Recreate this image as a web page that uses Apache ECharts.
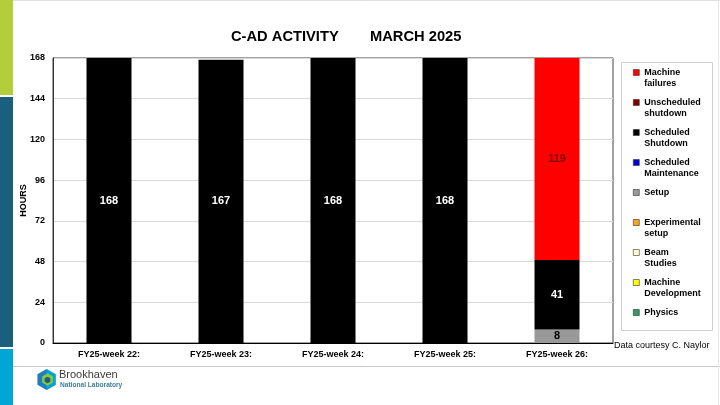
<!DOCTYPE html>
<html>
<head>
<meta charset="utf-8">
<script src="https://cdn.jsdelivr.net/npm/echarts@6/dist/echarts.min.js"></script>
<style>
html,body{margin:0;padding:0;background:#fff;}
#chart{width:720px;height:405px;}
</style>
</head>
<body>
<div id="chart"></div>
<script>
// ---- data ----
var weeks = ['FY25-week 22:', 'FY25-week 23:', 'FY25-week 24:', 'FY25-week 25:', 'FY25-week 26:'];
var yTicks = [0, 24, 48, 72, 96, 120, 144, 168];
var physics = [0, 0, 0, 0, 0];
var machineDevelopment = [0, 0, 0, 0, 0];
var beamStudies = [0, 0, 0, 0, 0];
var experimentalSetup = [0, 0, 0, 0, 0];
var setup = [0, 0, 0, 0, 8];
var scheduledMaintenance = [0, 0, 0, 0, 0];
var scheduledShutdown = [168, 167, 168, 168, 41];
var unscheduledShutdown = [0, 0, 0, 0, 0];
var machineFailures = [0, 0, 0, 0, 119];

var FONT = 'Liberation Sans, Arial, sans-serif';

var seriesDefs = [
  {name: 'Physics', legend: ' \nPhysics\n ', data: physics, color: '#339966', label: '#000'},
  {name: 'Machine Development', legend: ' \nMachine\nDevelopment', data: machineDevelopment, color: '#ffff00', label: '#000'},
  {name: 'Beam Studies', legend: ' \nBeam\nStudies', data: beamStudies, color: '#ffffcc', label: '#000'},
  {name: 'Experimental setup', legend: ' \nExperimental\nsetup', data: experimentalSetup, color: '#f5a623', label: '#000'},
  {name: 'Setup', legend: ' \nSetup\n ', data: setup, color: '#999999', label: '#000'},
  {name: 'Scheduled Maintenance', legend: ' \nScheduled\nMaintenance', data: scheduledMaintenance, color: '#0000cc', label: '#fff'},
  {name: 'Scheduled Shutdown', legend: ' \nScheduled\nShutdown', data: scheduledShutdown, color: '#000000', label: '#fff'},
  {name: 'Unscheduled shutdown', legend: ' \nUnscheduled\nshutdown', data: unscheduledShutdown, color: '#800000', label: '#fff'},
  {name: 'Machine failures', legend: ' \nMachine\nfailures', data: machineFailures, color: '#ff0000', label: '#7a0000'}
];
var legendText = {};
seriesDefs.forEach(function (s) { legendText[s.name] = s.legend; });

var series = seriesDefs.map(function (s) {
  return {
    name: s.name,
    type: 'bar',
    stack: 'total',
    barWidth: 45,
    data: s.data,
    itemStyle: {color: s.color},
    emphasis: {disabled: true},
    label: {
      show: true,
      position: 'inside',
      color: s.label,
      fontFamily: FONT,
      fontWeight: 'bold',
      fontSize: 11,
      formatter: function (p) { return p.value ? String(p.value) : ''; }
    }
  };
});

function hex(cx, cy, r) {
  var pts = [];
  for (var i = 0; i < 6; i++) {
    var a = (-90 + 60 * i) * Math.PI / 180;
    pts.push([cx + r * Math.cos(a), cy + r * Math.sin(a)]);
  }
  return pts;
}

var chart = echarts.init(document.getElementById('chart'), null, {renderer: 'canvas'});
chart.setOption({
  animation: false,
  backgroundColor: '#fff',
  textStyle: {fontFamily: FONT},
  title: [
    {text: 'C-AD ACTIVITY', left: 231, top: 29, padding: 0,
     textStyle: {fontFamily: FONT, fontWeight: 'bold', fontSize: 14.7, color: '#000'}},
    {text: 'MARCH 2025', left: 370, top: 29, padding: 0,
     textStyle: {fontFamily: FONT, fontWeight: 'bold', fontSize: 14.7, color: '#000'}}
  ],
  grid: {left: 53, right: 107, top: 58, bottom: 62, show: true, borderColor: '#444', borderWidth: 1},
  xAxis: {
    type: 'category',
    data: weeks,
    axisLine: {show: true, lineStyle: {color: '#000', width: 1}},
    axisTick: {show: false},
    axisLabel: {color: '#000', fontFamily: FONT, fontWeight: 'bold', fontSize: 9, margin: 7}
  },
  yAxis: {
    type: 'value',
    min: yTicks[0],
    max: yTicks[yTicks.length - 1],
    interval: yTicks[1] - yTicks[0],
    name: 'HOURS',
    nameLocation: 'middle',
    nameGap: 25,
    nameMoveOverlap: false,
    nameTextStyle: {color: '#000', fontFamily: FONT, fontWeight: 'bold', fontSize: 9},
    axisLine: {show: true, lineStyle: {color: '#333', width: 1}},
    axisTick: {show: false},
    axisLabel: {color: '#000', fontFamily: FONT, fontWeight: 'bold', fontSize: 9, margin: 8},
    splitLine: {show: true, lineStyle: {color: '#d9d9d9', width: 1}}
  },
  legend: {
    orient: 'vertical',
    left: 633,
    top: 56,
    padding: 0,
    itemGap: -3,
    itemWidth: 6,
    itemHeight: 6,
    icon: 'rect',
    selectedMode: false,
    data: seriesDefs.slice().reverse().map(function (s) { return s.name; }),
    formatter: function (n) { return legendText[n]; },
    itemStyle: {borderColor: '#333', borderWidth: 0.6},
    textStyle: {color: '#000', fontFamily: FONT, fontWeight: 'bold', fontSize: 9, lineHeight: 11}
  },
  graphic: [
    {type: 'rect', shape: {x: 0, y: 0, width: 13, height: 95}, style: {fill: '#b3cd3b'}, silent: true},
    {type: 'rect', shape: {x: 0, y: 97, width: 13, height: 250}, style: {fill: '#1a5f7c'}, silent: true},
    {type: 'rect', shape: {x: 0, y: 349, width: 13, height: 56}, style: {fill: '#00a6d6'}, silent: true},
    {type: 'line', shape: {x1: 13, y1: 366.5, x2: 720, y2: 366.5}, style: {stroke: '#c8c8c8', lineWidth: 1}, silent: true},
    {type: 'line', shape: {x1: 13, y1: 0.5, x2: 720, y2: 0.5}, style: {stroke: '#e0e0e0', lineWidth: 1}, silent: true},
    {type: 'line', shape: {x1: 718.5, y1: 0, x2: 718.5, y2: 405}, style: {stroke: '#e6e6e6', lineWidth: 1}, silent: true},
    {type: 'rect', shape: {x: 621.5, y: 62.5, width: 91, height: 268}, style: {fill: 'none', stroke: '#d0d0d0', lineWidth: 1}, silent: true, z: -1},
    {type: 'text', x: 614, y: 346, style: {text: 'Data courtesy C. Naylor', fill: '#000', font: '9px ' + FONT, verticalAlign: 'middle'}, silent: true},
    // logo
    {type: 'polygon', shape: {points: hex(46.5, 379.5, 10.5)}, style: {fill: '#1d7fc0'}, silent: true},
    {type: 'polygon', shape: {points: [[46.5, 369], [55.6, 374.25], [55.6, 384.75], [46.5, 390]]}, style: {fill: '#00a6d6'}, silent: true},
    {type: 'polygon', shape: {points: hex(47.5, 379.5, 6.2)}, style: {fill: '#8cc63f'}, silent: true},
    {type: 'polygon', shape: {points: hex(47.5, 380, 3.3)}, style: {fill: '#1a5f7c'}, silent: true},
    {type: 'text', x: 59, y: 375, style: {text: 'Brookhaven', fill: '#3a3a3a', font: '11px ' + FONT, verticalAlign: 'middle'}, silent: true},
    {type: 'text', x: 60, y: 385.5, style: {text: 'National Laboratory', fill: '#3f7f9c', font: 'bold 6.6px ' + FONT, verticalAlign: 'middle'}, silent: true}
  ],
  series: series
});
</script>
</body>
</html>
